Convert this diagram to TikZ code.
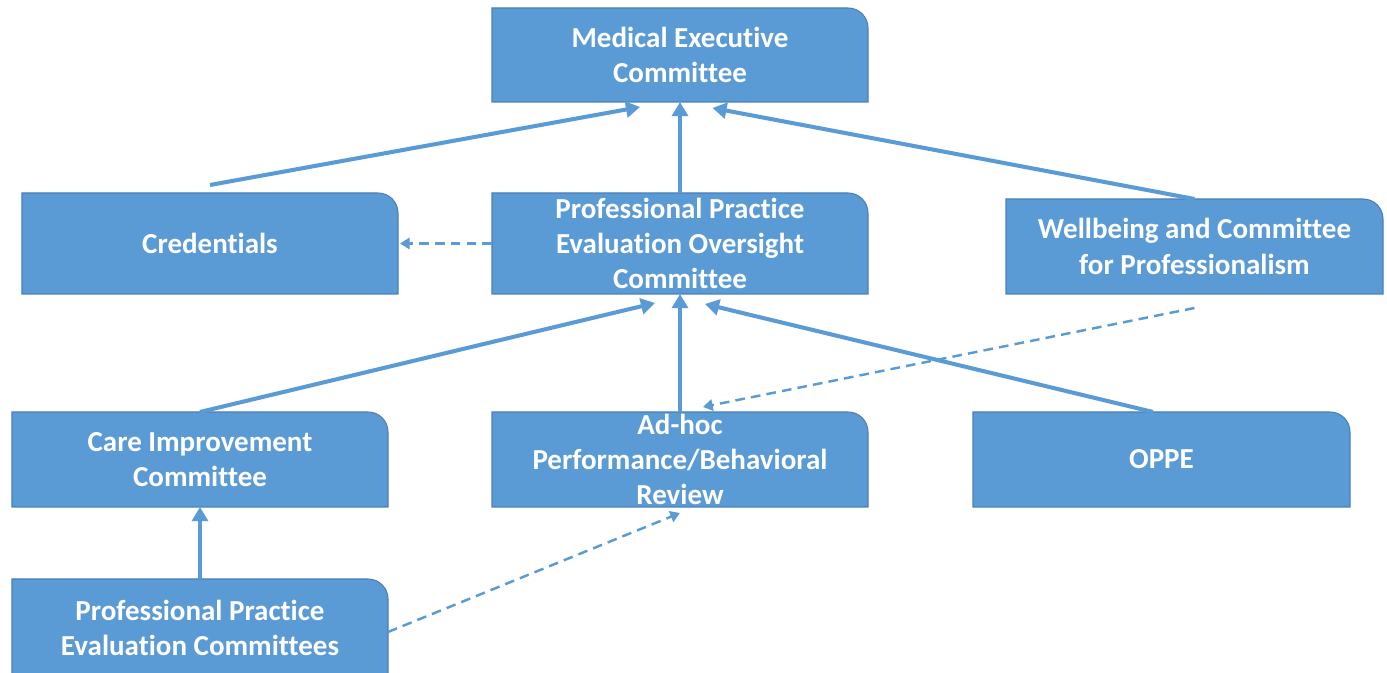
\documentclass[tikz,border=0pt]{standalone}
\usepackage{fontspec}
\setmainfont{Carlito}[Ligatures=NoCommon]
\usetikzlibrary{arrows.meta}
\definecolor{boxblue}{HTML}{5B9BD5}
\definecolor{boxedge}{HTML}{4A80B8}
\begin{document}
\begin{tikzpicture}[boxframe/.style={shape=rectangle,draw=none,fill=none,inner sep=0pt,outer sep=0pt},
  boxtext/.style={text=white,font=\fontsize{16.5}{20}\selectfont\bfseries,align=center},
  upline/.style={draw=boxblue,line width=2.3pt,-{Triangle[length=8pt,width=9pt]}},
  dashline/.style={draw=boxblue,line width=1.4pt,dash pattern=on 5.5pt off 3.5pt,-{Triangle[length=5.5pt,width=6.5pt]}},]
        \useasboundingbox (0,0) rectangle (27.74,13.46);
        \newcommand{\cornerr}{0.4cm}
        \newcommand{\committee}[5]{%
          \node[boxframe,minimum width=#3cm,minimum height=#4cm] (#1) at (#2) {};
          \filldraw[fill=boxblue,draw=boxedge,line width=0.6pt] (#1.south west) -- (#1.north west) -- ([xshift=-\cornerr]#1.north east) arc[start angle=90,end angle=0,radius=\cornerr] -- (#1.south east) -- cycle;
          \node[boxtext] at (#1.center) {#5};
        }
        \committee{mec}{13.6,12.36}{7.52}{1.88}{Medical Executive\\Committee}
        \committee{cred}{4.2,8.59}{7.52}{2.02}{Credentials}
        \committee{ppeoc}{13.6,8.59}{7.52}{2.02}{Professional Practice\\Evaluation Oversight\\Committee}
        \committee{well}{23.89,8.53}{7.54}{1.9}{Wellbeing and Committee\\for Professionalism}
        \committee{care}{4.0,4.27}{7.52}{1.9}{Care Improvement\\Committee}
        \committee{adhoc}{13.6,4.27}{7.52}{1.9}{Ad-hoc\\Performance/Behavioral\\Review}
        \committee{oppe}{23.23,4.27}{7.54}{1.9}{OPPE}
        \committee{ppecs}{4.0,0.9}{7.52}{1.96}{Professional Practice\\Evaluation Committees}
        % solid reporting lines
        \draw[upline] ([yshift=0.16cm]cred.north) -- ([xshift=-0.8cm,yshift=-0.1cm]mec.south);
        \draw[upline] (ppeoc.north) -- (mec.south);
        \draw[upline] (well.north) -- ([xshift=0.65cm,yshift=-0.12cm]mec.south);
        \draw[upline] (care.north) -- ([xshift=-0.5cm,yshift=-0.18cm]ppeoc.south);
        \draw[upline] (adhoc.north) -- (ppeoc.south);
        \draw[upline] ([xshift=-0.17cm]oppe.north) -- ([xshift=0.5cm,yshift=-0.2cm]ppeoc.south);
        \draw[upline] (ppecs.north) -- (care.south);
        % dashed lines
        \draw[dashline] (ppeoc.west) -- ([xshift=0.04cm]cred.east);
        \draw[dashline] ([yshift=-0.28cm]well.south) -- ([xshift=0.46cm,yshift=0.1cm]adhoc.north);
        \draw[dashline] ([yshift=-0.08cm]ppecs.east) -- ([yshift=-0.12cm]adhoc.south);
      \end{tikzpicture}
\end{document}
